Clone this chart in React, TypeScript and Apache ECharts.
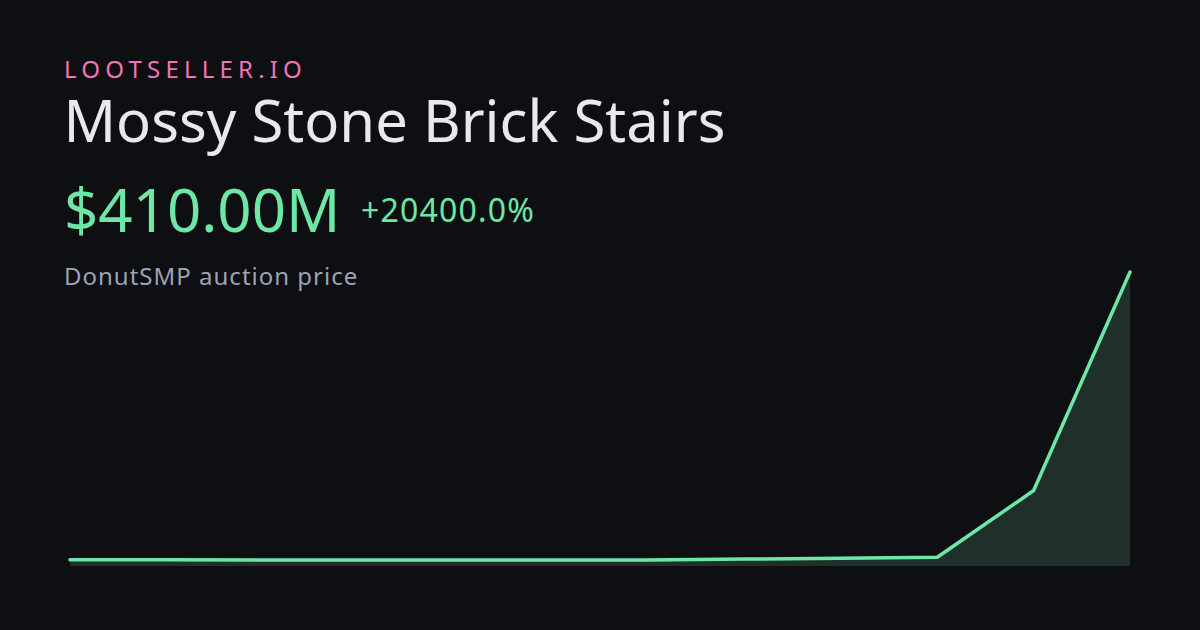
import React, { useEffect, useRef } from "react";
import * as echarts from "echarts";

const brand = "LOOTSELLER.IO";
const itemName = "Mossy Stone Brick Stairs";
const priceLabel = "$410.00M";
const changeLabel = "+20400.0%";
const subtitle = "DonutSMP auction price";

const categories = ["P1", "P2", "P3", "P4", "P5", "P6", "P7", "P8", "P9", "P10", "P11", "P12"];
const prices = [2.0, 1.8, 1.6, 1.6, 1.6, 1.6, 1.6, 2.8, 4.0, 5.4, 100, 410];

const FONT = '"Noto Sans", "Open Sans", sans-serif';

function textEl(text: string, x: number, baseline: number, size: number, fill: string) {
  return {
    type: "text",
    x,
    y: baseline - 0.385 * size,
    silent: true,
    style: {
      text,
      fill,
      font: `400 ${size}px ${FONT}`,
      textAlign: "left",
      textVerticalAlign: "middle",
    },
  };
}

export default function App() {
  const ref = useRef<HTMLDivElement>(null);
  useEffect(() => {
    document.body.style.margin = "0";
    const chart = echarts.init(ref.current!, undefined, { renderer: "svg", width: 1200, height: 630 });
    chart.setOption({
      animation: false,
      backgroundColor: "#0d0f12",
      grid: { left: 70, right: 70, top: 272, bottom: 64 },
      xAxis: { type: "category", data: categories, boundaryGap: false, show: false },
      yAxis: { type: "value", min: -7, max: 410, show: false, splitLine: { show: false } },
      series: [
        {
          type: "line",
          data: prices,
          symbol: "none",
          clip: false,
          lineStyle: { color: "#6ee7a6", width: 3.5, cap: "round", join: "round" },
          areaStyle: { color: "#1e3029", opacity: 1, origin: "start" },
        },
      ],
      graphic: [
        textEl(brand, 64, 77.3, 24, "#f472b6"),
        textEl(itemName, 63.5, 141.7, 58, "#e8e9ee"),
        textEl(priceLabel, 64, 231.7, 60, "#6ee7a6"),
        textEl(changeLabel, 361, 222.3, 32, "#6ee7a6"),
        textEl(subtitle, 64, 284.3, 24, "#9ca3b4"),
      ],
    });
    const spacing: Record<string, string> = {
      [brand]: "5.2px",
      [changeLabel]: "1.2px",
      [subtitle]: "1px",
    };
    const svg = ref.current!.querySelector("svg");
    if (svg) {
      svg.querySelectorAll("text").forEach((t) => {
        const s = spacing[t.textContent || ""];
        if (s) t.setAttribute("letter-spacing", s);
      });
    }
    return () => chart.dispose();
  }, []);
  return <div ref={ref} style={{ width: 1200, height: 630, background: "#0d0f12" }} />;
}
